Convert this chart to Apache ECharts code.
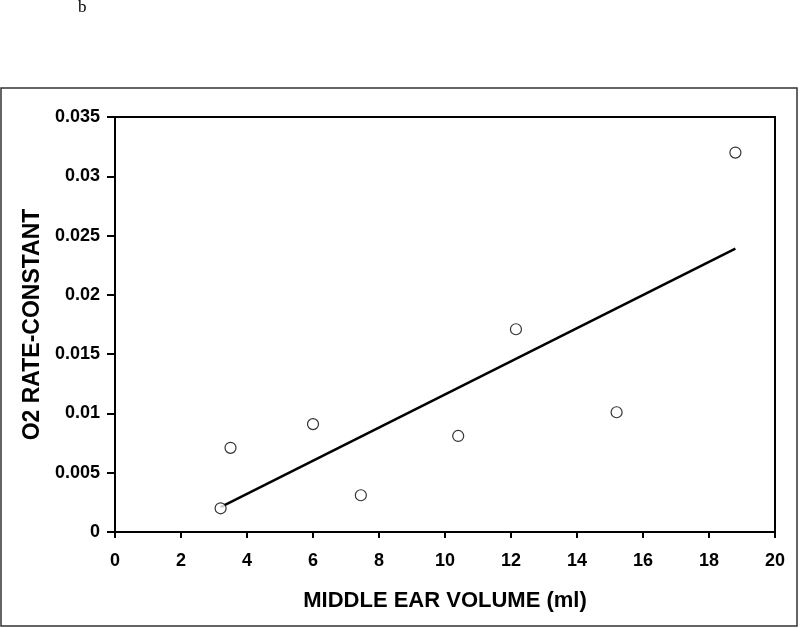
<!DOCTYPE html>
<html>
<head>
<meta charset="utf-8">
<script src="https://cdn.jsdelivr.net/npm/echarts@6/dist/echarts.min.js"></script>
<style>
  html, body { margin: 0; padding: 0; background: #fff; }
  #ear-chart { width: 800px; height: 628px; }
</style>
</head>
<body>
<div id="ear-chart"></div>
<script>
// measured points
const earVolume = [3.2, 3.5, 6.0, 7.45, 10.4, 12.15, 15.2, 18.8];
const o2Rate = [0.002, 0.0071, 0.0091, 0.0031, 0.0081, 0.0171, 0.0101, 0.032];
// fitted line endpoints
const trendX = [3.2, 18.8];
const trendY = [0.0021, 0.0239];

const xTicks = { min: 0, max: 20, interval: 2 };
const yTicks = { min: 0, max: 0.035, interval: 0.005 };

let chart = echarts.init(document.getElementById("ear-chart"));
const font = "Liberation Sans, Arial, sans-serif";

let option = {
  animation: false,
  backgroundColor: "#fff",
  graphic: [
    {
      type: "rect",
      shape: { x: 1, y: 88, width: 796, height: 538 },
      style: { fill: "none", stroke: "#333", lineWidth: 1.5 },
      silent: true,
    },
    {
      type: "text",
      left: 78,
      top: -1,
      style: {
        text: "b",
        fontSize: 17,
        fontFamily: "Liberation Serif, Times New Roman, serif",
        fill: "#000",
      },
    },
  ],
  grid: {
    left: 115,
    right: 25,
    top: 117,
    bottom: 96,
    show: true,
    borderColor: "#000",
    borderWidth: 2,
    backgroundColor: "transparent",
  },
  xAxis: {
    type: "value",
    min: xTicks.min,
    max: xTicks.max,
    interval: xTicks.interval,
    name: "MIDDLE EAR VOLUME (ml)",
    nameLocation: "middle",
    nameGap: 58,
    nameTextStyle: { fontFamily: font, fontWeight: "bold", fontSize: 22, color: "#000" },
    axisLine: { show: true, lineStyle: { color: "#000", width: 2 } },
    axisTick: { show: true, inside: false, length: 6, lineStyle: { color: "#000", width: 2 } },
    axisLabel: { margin: 20, fontFamily: font, fontWeight: "bold", fontSize: 18, color: "#000" },
    splitLine: { show: false },
  },
  yAxis: {
    type: "value",
    min: yTicks.min,
    max: yTicks.max,
    interval: yTicks.interval,
    name: "O2 RATE-CONSTANT",
    nameLocation: "middle",
    nameGap: 70,
    nameTextStyle: { fontFamily: font, fontWeight: "bold", fontSize: 23, color: "#000" },
    axisLine: { show: true, lineStyle: { color: "#000", width: 2 } },
    axisTick: { show: true, inside: false, length: 8, lineStyle: { color: "#000", width: 2 } },
    axisLabel: {
      margin: 15,
      fontFamily: font,
      fontWeight: "bold",
      fontSize: 18,
      color: "#000",
      formatter: (v) => String(+v.toFixed(3)),
    },
    splitLine: { show: false },
  },
  series: [
    {
      name: "trend",
      type: "line",
      data: trendX.map((x, i) => [x, trendY[i]]),
      symbol: "none",
      lineStyle: { color: "#000", width: 2.5 },
      z: 2,
    },
    {
      name: "points",
      type: "scatter",
      data: earVolume.map((x, i) => [x, o2Rate[i]]),
      symbol: "circle",
      symbolSize: 11,
      itemStyle: { color: "#fff", borderColor: "#000", borderWidth: 1.2 },
      z: 3,
    },
  ],
};

chart.setOption(option);
window.onresize = function () {
  chart.resize();
};
</script>
</body>
</html>
